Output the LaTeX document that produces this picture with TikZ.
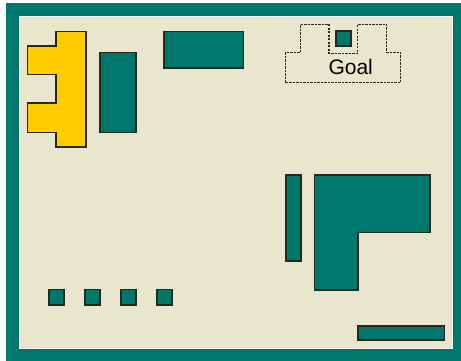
\documentclass[tikz,border=0pt]{standalone}
\usepackage{fontspec}
\setmainfont{Liberation Sans}
\definecolor{teal}{RGB}{0,119,107}
\definecolor{cream}{RGB}{232,230,205}
\definecolor{gold}{RGB}{255,204,0}
\definecolor{edge}{RGB}{40,40,35}
\begin{document}
\begin{tikzpicture}[x=1pt,y=-1pt,
  block/.style={fill=teal,draw=edge,line width=1.6pt},
  piece/.style={fill=gold,draw=edge,line width=1.6pt},
  goalline/.style={draw=edge,line width=1.1pt,dash pattern=on 2.2pt off 1.3pt}]
\useasboundingbox (0,0) rectangle (461,361);
% frame
\fill[teal] (6,3) rectangle (461,361);
\draw[fill=cream,draw=white!85!cream,line width=1pt] (19.5,16.5) rectangle (452,348);
% yellow piece
\draw[piece] (56,31.7) -- (85.7,31.7) -- (85.7,146.7) -- (56,146.7) -- (56,132.3)
  -- (27.3,132.3) -- (27.3,103.3) -- (56,103.3) -- (56,74.7) -- (27.3,74.7)
  -- (27.3,46) -- (56,46) -- cycle;
% teal blocks
\draw[block] (99.7,52.7) rectangle (135.7,132.3);
\draw[block] (163.7,31.7) rectangle (243.3,68);
\draw[block] (285.7,175) rectangle (301,261);
\draw[block] (314.3,175) -- (430,175) -- (430,232.3) -- (357.7,232.3) -- (357.7,290) -- (314.3,290) -- cycle;
\draw[block] (357.7,325.7) rectangle (444.3,340);
% small squares
\foreach \x in {49,85,121,157}
  \draw[block] (\x,289.5) rectangle ++(15,15.5);
% goal region
\draw[goalline] (285.7,82.7) -- (285.7,52.3) -- (300.7,52.3) -- (300.7,24.3) -- (329,24.3)
  -- (329,53.3) -- (357.7,53.3) -- (357.7,24.3) -- (386.7,24.3) -- (386.7,52.3)
  -- (400.7,52.3) -- (400.7,82.7) -- cycle;
\draw[block] (335.7,31) rectangle (351,46);
\node[font=\fontsize{21}{24}\selectfont,text=black,inner sep=0pt] (goal) at (350.7,66.5) {Goal};
\end{tikzpicture}
\end{document}
